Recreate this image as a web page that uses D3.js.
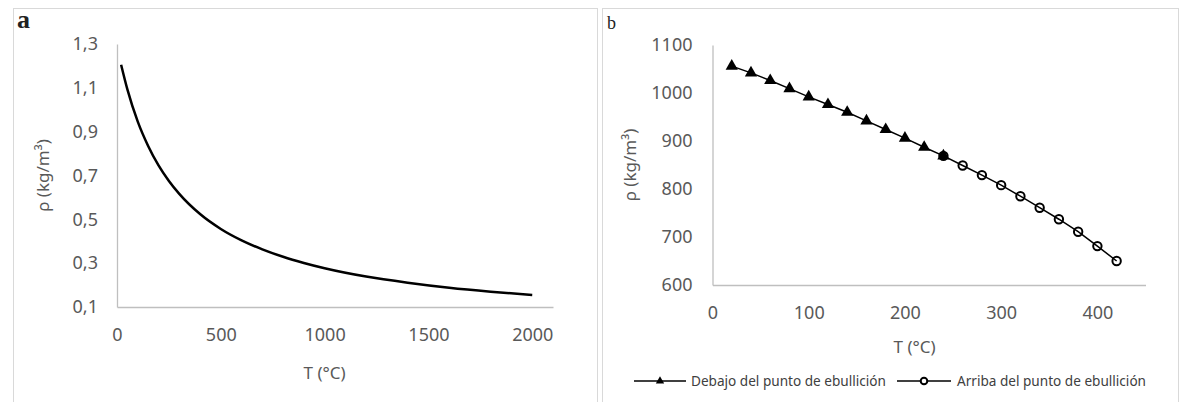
<!DOCTYPE html>
<html>
<head>
<meta charset="utf-8">
<script src="https://cdn.jsdelivr.net/npm/d3@7"></script>
<style>
  body { margin: 0; background: #fff; }
  .tick text { font-family: "Noto Sans", sans-serif; font-size: 18px; fill: #595959; }
  .domain { stroke: #bfbfbf; stroke-width: 1.3; }
  .aTitle { font-family: "Noto Sans", sans-serif; font-size: 17px; fill: #595959; }
  .legText { font-family: "Noto Sans", sans-serif; font-size: 13.6px; fill: #404040; }
</style>
</head>
<body>
<div id="chart"></div>
<script>
// Panel a: air density vs temperature
var tempA = [20, 50, 100, 150, 200, 250, 300, 400, 500, 600, 700, 800, 900, 1000, 1200, 1400, 1600, 1800, 2000];
var rhoA = [1.205, 1.093, 0.946, 0.835, 0.746, 0.675, 0.616, 0.524, 0.456, 0.404, 0.363, 0.329, 0.301, 0.277, 0.239, 0.211, 0.188, 0.170, 0.155];
var ticksAx = [0, 500, 1000, 1500, 2000];
var ticksAy = [0.1, 0.3, 0.5, 0.7, 0.9, 1.1, 1.3];

// Panel b: liquid density below / above boiling point
var tempBelow = [20, 40, 60, 80, 100, 120, 140, 160, 180, 200, 220, 240];
var rhoBelow = [1056, 1042, 1026, 1009, 992, 976, 960, 942, 924, 906, 887, 869];
var tempAbove = [240, 260, 280, 300, 320, 340, 360, 380, 400, 420];
var rhoAbove = [869, 849, 829, 808, 785, 761, 737, 711, 681, 650];
var ticksBx = [0, 100, 200, 300, 400];
var ticksBy = [600, 700, 800, 900, 1000, 1100];
var legendLabels = ["Debajo del punto de ebullición", "Arriba del punto de ebullición"];

var width = 1183;
var height = 402;

var svg = d3.select("#chart")
  .append("svg")
  .attr("width", width)
  .attr("height", height);

svg.append("rect").attr("width", width).attr("height", height).attr("fill", "#fff");

// panel frames
svg.append("rect")
  .attr("x", 13.5).attr("y", 8.5).attr("width", 584).attr("height", 400)
  .attr("fill", "none").attr("stroke", "#d9d9d9");
svg.append("rect")
  .attr("x", 602.5).attr("y", 8.5).attr("width", 576).attr("height", 400)
  .attr("fill", "none").attr("stroke", "#d9d9d9");

var comma = function(d) { return d3.format(".1f")(d).replace(".", ","); };
var plain = d3.format("d");

// ---------- panel a ----------
var xA = d3.scaleLinear().domain([0, 2100]).range([117, 553]);
var yA = d3.scaleLinear().domain([0.1, 1.3]).range([307, 44]);

svg.append("g")
  .attr("transform", "translate(0,307)")
  .call(d3.axisBottom(xA).tickValues(ticksAx).tickSize(0).tickPadding(21).tickFormat(plain));
svg.append("g")
  .attr("transform", "translate(117,0)")
  .call(d3.axisLeft(yA).tickValues(ticksAy).tickSize(0).tickPadding(19).tickFormat(comma));

var lineA = d3.line()
  .x(function(d, i) { return xA(tempA[i]); })
  .y(function(d, i) { return yA(rhoA[i]); })
  .curve(d3.curveMonotoneX);

svg.append("path")
  .datum(rhoA)
  .attr("d", lineA)
  .attr("fill", "none")
  .attr("stroke", "#000")
  .attr("stroke-width", 2.5);

svg.append("text").attr("class", "aTitle")
  .attr("x", xA(1000)).attr("y", 379).attr("text-anchor", "middle")
  .text("T (°C)");
svg.append("text").attr("class", "aTitle")
  .attr("transform", "translate(49," + ((yA(0.1) + yA(1.3)) / 2) + ")rotate(-90)")
  .attr("text-anchor", "middle")
  .text("ρ (kg/m³)");

svg.append("text")
  .attr("x", 17).attr("y", 28)
  .attr("font-family", "'Liberation Serif', serif")
  .attr("font-size", 26).attr("font-weight", "bold").attr("fill", "#222")
  .text("a");

// ---------- panel b ----------
var xB = d3.scaleLinear().domain([0, 450]).range([712.5, 1145.5]);
var yB = d3.scaleLinear().domain([600, 1100]).range([285, 45]);

svg.append("g")
  .attr("transform", "translate(0,285)")
  .call(d3.axisBottom(xB).tickValues(ticksBx).tickSize(0).tickPadding(21).tickFormat(plain));
svg.append("g")
  .attr("transform", "translate(712.5,0)")
  .call(d3.axisLeft(yB).tickValues(ticksBy).tickSize(0).tickPadding(20).tickFormat(plain));

var lineBelow = d3.line()
  .x(function(d, i) { return xB(tempBelow[i]); })
  .y(function(d, i) { return yB(rhoBelow[i]); });
var lineAbove = d3.line()
  .x(function(d, i) { return xB(tempAbove[i]); })
  .y(function(d, i) { return yB(rhoAbove[i]); });

svg.append("path").datum(rhoBelow).attr("d", lineBelow)
  .attr("fill", "none").attr("stroke", "#000").attr("stroke-width", 1.5);
svg.append("path").datum(rhoAbove).attr("d", lineAbove)
  .attr("fill", "none").attr("stroke", "#000").attr("stroke-width", 1.5);

var tri = d3.symbol().type(d3.symbolTriangle).size(65);
svg.selectAll(".tri")
  .data(rhoBelow)
  .enter()
  .append("path")
  .attr("class", "tri")
  .attr("d", tri)
  .attr("transform", function(d, i) { return "translate(" + xB(tempBelow[i]) + "," + yB(d) + ")"; })
  .attr("fill", "#000");

svg.selectAll(".circ")
  .data(rhoAbove)
  .enter()
  .append("circle")
  .attr("class", "circ")
  .attr("cx", function(d, i) { return xB(tempAbove[i]); })
  .attr("cy", function(d) { return yB(d); })
  .attr("r", 4.2)
  .attr("fill", "none")
  .attr("stroke", "#000")
  .attr("stroke-width", 2);

svg.append("text").attr("class", "aTitle")
  .attr("x", xB(210)).attr("y", 353).attr("text-anchor", "middle")
  .text("T (°C)");
svg.append("text").attr("class", "aTitle")
  .attr("transform", "translate(636," + ((yB(600) + yB(1100)) / 2) + ")rotate(-90)")
  .attr("text-anchor", "middle")
  .text("ρ (kg/m³)");

svg.append("text")
  .attr("x", 607).attr("y", 29)
  .attr("font-family", "'Liberation Serif', serif")
  .attr("font-size", 18).attr("fill", "#222")
  .text("b");

// legend
var legY = 381;
var leg1 = svg.append("g");
leg1.append("line").attr("x1", 634).attr("x2", 686).attr("y1", legY).attr("y2", legY)
  .attr("stroke", "#000").attr("stroke-width", 1.3);
leg1.append("path").attr("d", d3.symbol().type(d3.symbolTriangle).size(30))
  .attr("transform", "translate(660," + legY + ")");
leg1.append("text").attr("class", "legText").attr("x", 691).attr("y", legY + 5).text(legendLabels[0]);

var leg2 = svg.append("g");
leg2.append("line").attr("x1", 897).attr("x2", 951).attr("y1", legY).attr("y2", legY)
  .attr("stroke", "#000").attr("stroke-width", 1.3);
leg2.append("circle").attr("cx", 924).attr("cy", legY).attr("r", 3.3)
  .attr("fill", "#fff").attr("stroke", "#000").attr("stroke-width", 2);
leg2.append("text").attr("class", "legText").attr("x", 957).attr("y", legY + 5).text(legendLabels[1]);
</script>
</body>
</html>
